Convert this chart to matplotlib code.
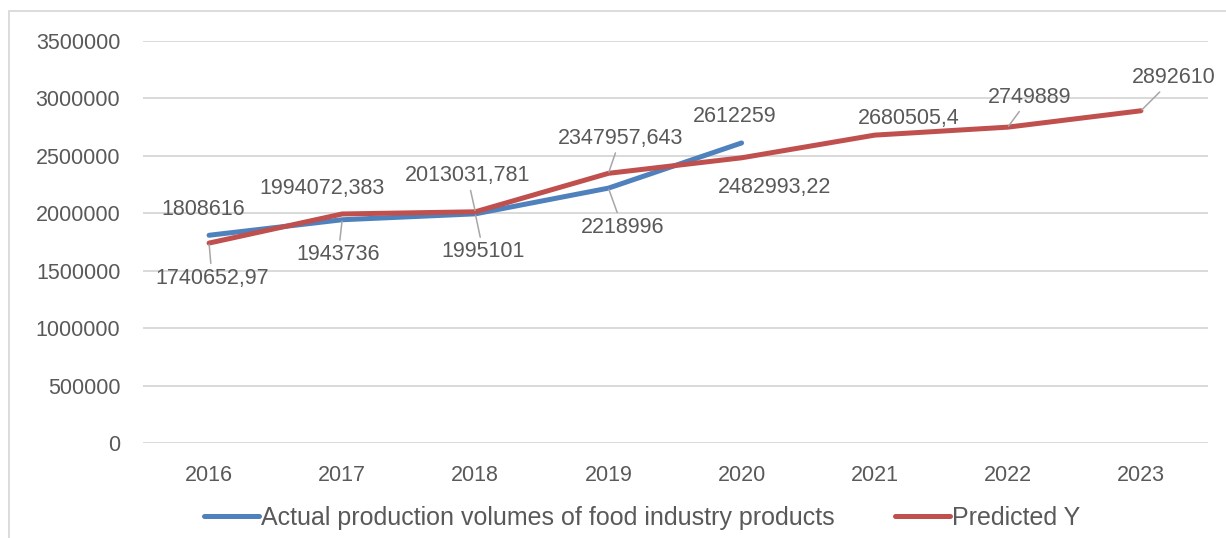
#!/usr/bin/env python3
"""
Actual vs predicted production volumes of food industry products (2016-2023).

Saves out.png
"""

import matplotlib
matplotlib.use("Agg")
import matplotlib.pyplot as plt
from matplotlib.patches import Rectangle

# ── Dati ─────────────────────────────────────────────────────────────────────
years = ["2016", "2017", "2018", "2019", "2020", "2021", "2022", "2023"]
actual = [1808616, 1943736, 1995101, 2218996, 2612259]
predicted = [1740652.97, 1994072.383, 2013031.781, 2347957.643,
             2482993.22, 2680505.4, 2749889, 2892610]
y_ticks = [0, 500000, 1000000, 1500000, 2000000, 2500000, 3000000, 3500000]

LABEL_ACTUAL = "Actual production volumes of food industry products"
LABEL_PRED = "Predicted Y"

COLOR_ACT = "#4F81BD"
COLOR_PRED = "#C0504D"
COLOR_TXT = "#595959"
COLOR_GRID = "#D9D9D9"
COLOR_LEAD = "#A6A6A6"

# offset etichette (pixel) e presenza linea guida
OFF_ACT = [(-6, 26, False), (-4, -35, True), (8, -38, True), (14, -39, True),
           (-7, 26, False)]
OFF_PRED = [(3, -35, True), (-20, 25, False), (-8, 36, True), (12, 35, True),
            (33, -30, False), (34, 17, False), (22, 30, True), (33, 33, True)]

W, H = 1226, 538
FS = 15.5
FS_LEG = 18


def fmt(v):
    s = f"{v}"
    if s.endswith(".0"):
        s = s[:-2]
    return s.replace(".", ",")


def label_points(ax, values, offsets):
    for i, (v, (dx, dy, lead)) in enumerate(zip(values, offsets)):
        kw = {}
        if lead:
            kw["arrowprops"] = dict(arrowstyle="-", color=COLOR_LEAD, lw=1.1,
                                    shrinkA=1, shrinkB=1)
        ax.annotate(fmt(v), xy=(i, v), xytext=(dx, dy),
                    textcoords="offset pixels", ha="center", va="center",
                    fontsize=FS, color=COLOR_TXT, zorder=5, **kw)


def main():
    plt.rcParams["font.family"] = ["Liberation Sans", "DejaVu Sans"]

    fig = plt.figure(figsize=(W / 100, H / 100), dpi=100)
    fig.patch.set_facecolor("white")

    # cornice grigia del grafico
    fig.add_artist(Rectangle((9 / W, -0.2), 1.2, 1.2 - 11 / H,
                             transform=fig.transFigure, fill=False,
                             edgecolor=COLOR_GRID, lw=1.3))

    ax = fig.add_axes([142.5 / W, 1 - 443 / H, 1065 / W, 402 / H])

    x = list(range(len(years)))
    ax.plot(x[:len(actual)], actual, color=COLOR_ACT, lw=3.6,
            solid_capstyle="round", label=LABEL_ACTUAL, zorder=3)
    ax.plot(x, predicted, color=COLOR_PRED, lw=3.6,
            solid_capstyle="round", label=LABEL_PRED, zorder=4)

    label_points(ax, actual, OFF_ACT)
    label_points(ax, predicted, OFF_PRED)

    ax.set_xlim(-0.5, len(years) - 0.5)
    ax.set_ylim(0, 3500000)
    ax.set_xticks(x)
    ax.set_xticklabels(years)
    ax.set_yticks(y_ticks)
    ax.set_yticklabels([str(t) for t in y_ticks])
    ax.tick_params(axis="both", length=0, labelsize=FS, labelcolor=COLOR_TXT)
    ax.tick_params(axis="y", pad=16)
    ax.tick_params(axis="x", pad=16)

    ax.grid(axis="y", color=COLOR_GRID, lw=1.4)
    ax.set_axisbelow(True)
    for sp in ax.spines.values():
        sp.set_visible(False)

    h, l = ax.get_legend_handles_labels()
    fig.legend(h, l, loc="center", bbox_to_anchor=(0.524, 1 - 518 / H),
               ncol=2, frameon=False, fontsize=FS_LEG, labelcolor=COLOR_TXT,
               handlelength=2.2, handletextpad=0.08, columnspacing=2.4)

    fig.savefig("out.png", dpi=100)


if __name__ == "__main__":
    main()
